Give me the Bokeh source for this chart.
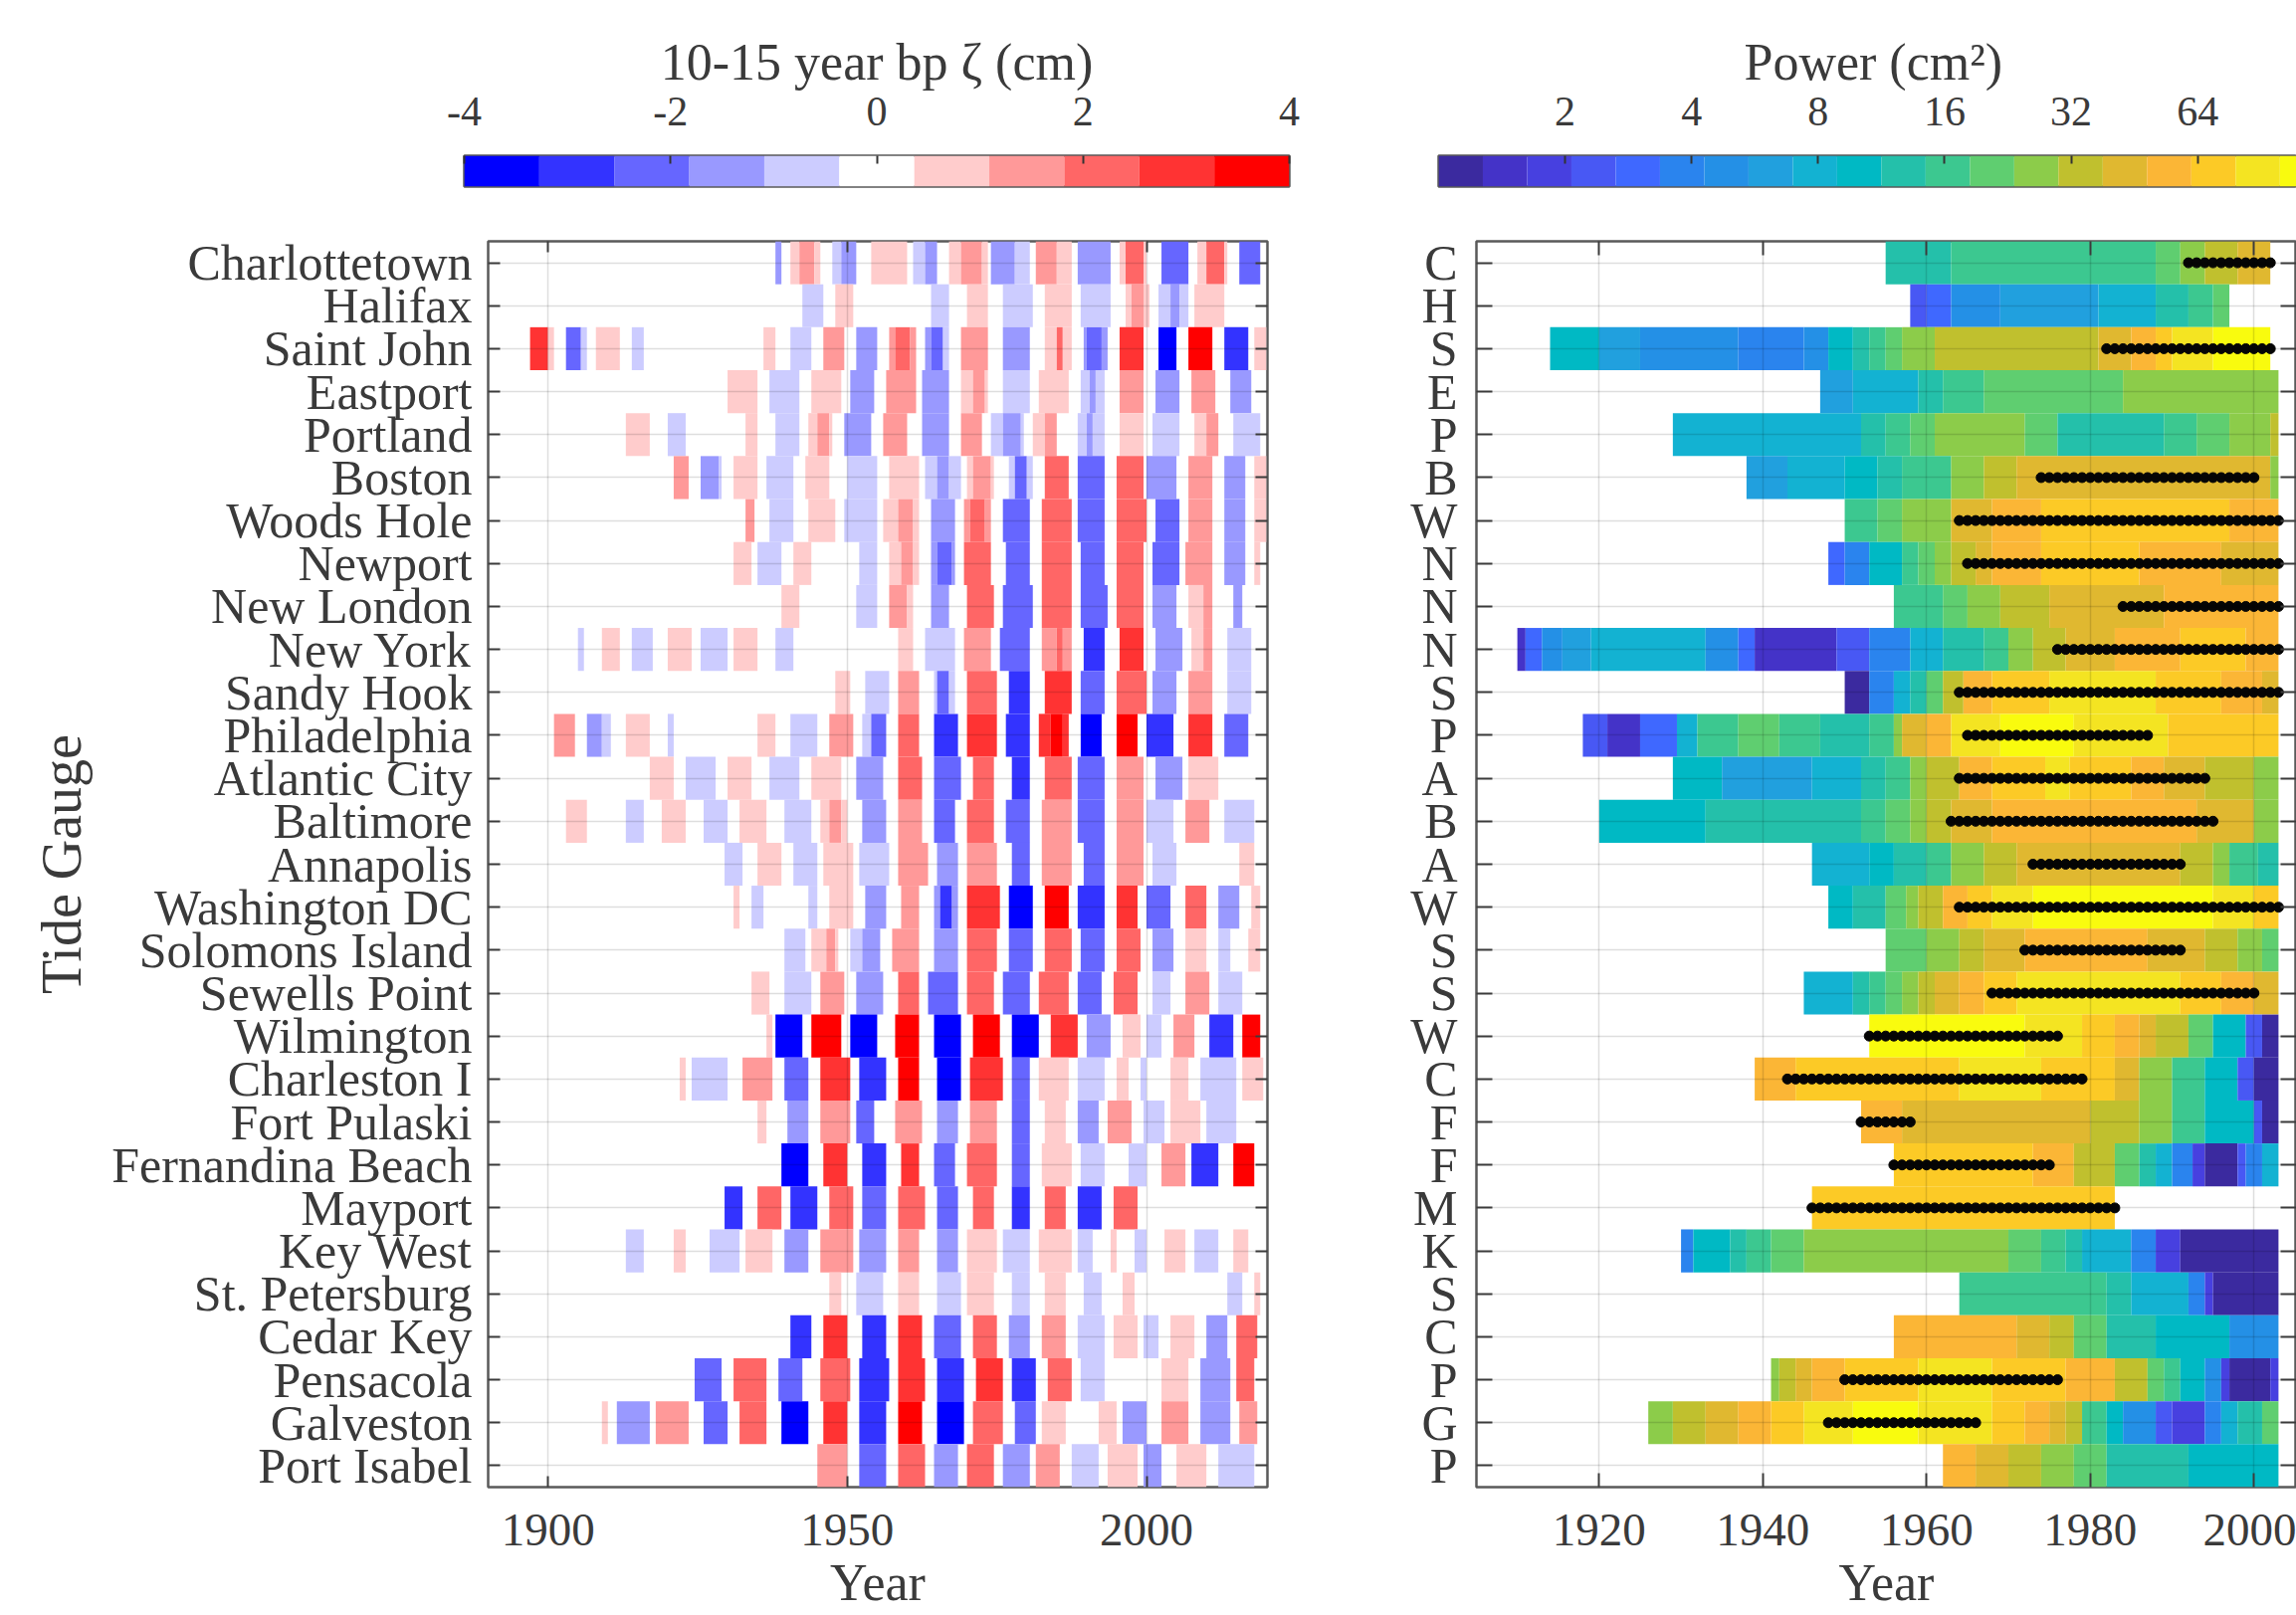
from bokeh.plotting import figure
from bokeh.layouts import column, row
from bokeh.models import (ColumnDataSource, LinearColorMapper, LogColorMapper, Range1d,
                          FixedTicker, LinearAxis)
from bokeh.embed import file_html
from bokeh.resources import INLINE

stations = ["Charlottetown", "Halifax", "Saint John", "Eastport", "Portland", "Boston", "Woods Hole",
            "Newport", "New London", "New York", "Sandy Hook", "Philadelphia", "Atlantic City",
            "Baltimore", "Annapolis", "Washington DC", "Solomons Island", "Sewells Point", "Wilmington",
            "Charleston I", "Fort Pulaski", "Fernandina Beach", "Mayport", "Key West", "St. Petersburg",
            "Cedar Key", "Pensacola", "Galveston", "Port Isabel"]
initials = ["C", "H", "S", "E", "P", "B", "W", "N", "N", "N", "S", "P", "A", "B", "A", "W", "S", "S", "W",
            "C", "F", "F", "M", "K", "S", "C", "P", "G", "P"]

# left panel: (first year, last year, colour-bar bin), bin -5..5, one bin = 8/11 cm
bp_charlottetown = [(1938,1939,-2),(1940.5,1942,1),(1942,1944.5,2),(1944.5,1945.5,1),(1947.5,1949,-1),(1949,1951.5,-2),(1954,1960,1),(1961,1963,-1),(1963,1965,-2),(1967,1969,1),(1969,1972.5,2),(1972.5,1973.5,1),(1974,1978,-2),(1978,1980.5,-1),(1981.5,1985,2),(1985,1987.5,1),(1988.5,1994,-2),(1995.5,1996.5,1),(1996.5,1999.5,3),(1999.5,2000,1),(2002.5,2007,-3),(2008.5,2010,1),(2010,2013,3),(2013,2013.5,1),(2015.5,2019,-3)]
bp_halifax = [(1942.5,1946,-1),(1948,1951,1),(1964,1967,-1),(1970,1973.5,1),(1976,1981,-1),(1983,1987.5,1),(1989,1994,-1),(1996.5,1997.5,1),(1997.5,1999.5,2),(1999.5,2000.5,1),(2002,2004,-1),(2004,2005.5,-2),(2005.5,2007,-1),(2008,2013,1)]
bp_saint_john = [(1897,1900,4),(1900,1901,1),(1903,1905.5,-3),(1905.5,1906.5,-1),(1908,1912,1),(1914,1916,-1),(1936,1938,1),(1940.5,1944,-1),(1946,1949.5,2),(1951.5,1955,-2),(1957,1958,2),(1958,1960.5,3),(1960.5,1961.5,2),(1963,1964,-2),(1964,1966,-3),(1966,1967,-1),(1969,1973.5,2),(1976,1980.5,-2),(1983,1985,1),(1985,1986,3),(1986,1987.5,1),(1989.5,1990,-2),(1990,1992.5,-3),(1992.5,1993.5,-2),(1995.5,1999.5,4),(2002,2005,-5),(2007,2011,5),(2013,2017,-4),(2018,2020,1)]
bp_eastport = [(1930,1935,1),(1937,1942,-1),(1944,1949,1),(1950.5,1954.5,-2),(1956.5,1961.5,2),(1962.5,1967,-2),(1969,1971,1),(1971,1973,2),(1973,1973.5,1),(1976,1980.5,-1),(1982,1987,1),(1989,1990.5,-1),(1990.5,1991.5,-2),(1991.5,1993,-1),(1995.5,1999.5,2),(2001.5,2005.5,-2),(2007.5,2011.5,2),(2014,2017.5,-2)]
bp_portland = [(1913,1917,1),(1920,1923,-1),(1933,1935,1),(1938,1942,-1),(1943.5,1945,1),(1945,1947,2),(1947,1947.5,1),(1949.5,1954,-2),(1956,1960,2),(1962.5,1967,-2),(1969,1972.5,2),(1974,1976,-1),(1976,1979,-2),(1979,1979.5,-1),(1981,1983,1),(1983,1985,2),(1988.5,1990,-1),(1990,1991,-2),(1991,1993,-1),(1995.5,1999.5,1),(2001,2005.5,-1),(2008,2010,1),(2010,2012,2),(2014.5,2019,-1)]
bp_boston = [(1921,1923.5,2),(1925.5,1928.5,-2),(1928.5,1929,-1),(1931,1935,1),(1936.5,1941,-1),(1943,1947,1),(1950,1955,-1),(1957,1962,1),(1963,1965,-1),(1965,1967,-2),(1967,1969,-1),(1970,1971,1),(1971,1974,2),(1974,1974.5,1),(1977,1978,-1),(1978,1980,-3),(1980,1981,-1),(1983,1987,3),(1988.5,1993,-3),(1995,1999.5,3),(2000,2005,-2),(2007,2011,2),(2013,2016.5,-2),(2018,2020,1)]
bp_woods_hole = [(1933,1934.5,2),(1937,1941,-1),(1943.5,1948,1),(1949.5,1955,-1),(1956,1958.5,1),(1958.5,1961,2),(1961,1962,1),(1964,1968,-2),(1969.5,1970.5,2),(1970.5,1973,3),(1973,1974,2),(1976,1980.5,-3),(1982.5,1987.5,3),(1988.5,1993,-3),(1995,2000,3),(2001.5,2005.5,-3),(2007,2011,2),(2013,2016.5,-2),(2018,2020,1)]
bp_newport = [(1931,1934,1),(1935,1939,-1),(1941,1944,1),(1952,1955,-1),(1957,1959,1),(1959,1961,2),(1961,1962,1),(1964,1965,-2),(1965,1967.5,-3),(1967.5,1968,-2),(1969.5,1974,3),(1976.5,1980.5,-3),(1982.5,1987.5,3),(1989,1993,-3),(1995,1999.5,3),(2001,2005.5,-3),(2006.5,2011,2),(2013,2016.5,-2),(2018,2019,1)]
bp_new_london = [(1939,1942,1),(1951.5,1955,-1),(1957,1960,2),(1960,1961,1),(1964,1967,-2),(1970,1974.5,3),(1976,1981,-3),(1982.5,1987.5,3),(1989,1993.5,-3),(1995,1999.5,3),(2001,2005,-2),(2007,2009.5,1),(2009.5,2011,2),(2014.5,2016,-2)]
bp_new_york = [(1905,1906,-1),(1909,1912,1),(1914,1917.5,-1),(1920,1924,1),(1925.5,1930,-1),(1931,1935,1),(1938,1941,-1),(1958.5,1961,1),(1963,1968,-1),(1969.5,1974,2),(1975.5,1980.5,-3),(1982.5,1985,2),(1985,1986,3),(1986,1987.5,2),(1989.5,1993,-4),(1995.5,1999.5,4),(2001.5,2006,-2),(2007.5,2009.5,1),(2009.5,2011,2),(2013.5,2017.5,-1)]
bp_sandy_hook = [(1948,1950.5,1),(1953,1957,-1),(1958.5,1962,2),(1964.5,1965,-1),(1965,1967,-3),(1967,1968,-1),(1970,1975,3),(1977,1980.5,-4),(1983,1987.5,4),(1989,1993,-3),(1995,2000,3),(2001,2005,-2),(2007,2011,2),(2013.5,2017.5,-1)]
bp_philadelphia = [(1901,1904.5,2),(1906.5,1909,-2),(1909,1910.5,-1),(1913,1917,1),(1920,1921,-1),(1935,1938,1),(1940.5,1945,-1),(1947,1951,2),(1952.5,1954,-1),(1954,1956.5,-3),(1958.5,1962,3),(1964.5,1968.5,-4),(1970,1975,4),(1976.5,1980.5,-4),(1982,1984,4),(1984,1986,5),(1986,1987,4),(1989,1992.5,-5),(1995,1998.5,5),(2000,2004.5,-4),(2007,2011,4),(2013,2017,-3)]
bp_atlantic_city = [(1917,1921,1),(1923,1928,-1),(1930,1934,1),(1937,1942,-1),(1944,1949,1),(1951.5,1956,-2),(1958.5,1962.5,3),(1964.5,1969,-3),(1971,1974.5,3),(1977.5,1980.5,-4),(1983,1987.5,3),(1988.5,1993,-3),(1995,1999.5,2),(2001.5,2006,-2),(2007,2012,1)]
bp_baltimore = [(1903,1906.5,1),(1913,1916,-1),(1919,1923,1),(1926,1930,-1),(1932,1936.5,1),(1939.5,1944,-1),(1945.5,1947,1),(1947,1949,2),(1949,1950,1),(1952.5,1956.5,-2),(1958.5,1962.5,2),(1964.5,1968,-3),(1970,1974.5,3),(1976.5,1980.5,-3),(1982.5,1987.5,2),(1988.5,1993,-3),(1995,1999.5,2),(2000,2004.5,-1),(2006.5,2010.5,2),(2013,2018,-1)]
bp_annapolis = [(1929.5,1932.5,-1),(1935,1939,1),(1941,1945,-1),(1946,1951,1),(1952,1957,-1),(1958.5,1963.5,2),(1965,1968.5,-2),(1970,1975,2),(1977.5,1980.5,-3),(1982.5,1987.5,2),(1989.5,1993,-3),(1995,1999.5,2),(2001,2005,-1),(2015.5,2018,1)]
bp_washington = [(1931,1932,1),(1934,1936,-1),(1943.5,1945,-1),(1947,1951,1),(1953,1956.5,-2),(1959,1962,2),(1964.5,1965.5,-2),(1965.5,1967.5,-4),(1967.5,1968.5,-2),(1970,1975.5,4),(1977,1981,-5),(1983,1987,5),(1988.5,1993,-4),(1995,1998.5,4),(2000,2004,-3),(2006.5,2010,3),(2012,2015.5,-2),(2017.5,2019,1)]
bp_solomons = [(1939.5,1943,-1),(1944,1946.5,1),(1946.5,1948,2),(1948,1948.5,1),(1950.5,1952.5,-1),(1952.5,1955.5,-2),(1957.5,1962,2),(1964.5,1968.5,-2),(1970,1975,3),(1977,1981,-3),(1983,1987.5,3),(1989,1993,-3),(1995,1999,3),(2001,2004.5,-2),(2006.5,2010,1),(2012,2014,-1),(2017,2019,1)]
bp_sewells = [(1934,1937,1),(1939.5,1944,-1),(1945.5,1949.5,2),(1951.5,1956,-2),(1958.5,1962,3),(1963.5,1968.5,-3),(1970,1974.5,3),(1976,1980.5,-3),(1982,1987,3),(1988.5,1992.5,-3),(1994.5,1998.5,3),(2001,2004,-1),(2006.5,2010.5,2),(2012,2016,-1)]
bp_wilmington = [(1936.5,1937.5,1),(1938,1942.5,-5),(1944,1949,5),(1950.5,1955,-5),(1958,1962,5),(1964.5,1969,-5),(1971,1975.5,5),(1977.5,1982,-5),(1984,1988.5,4),(1990,1994,-2),(1996,1999,1),(2000,2002.5,-1),(2004.5,2008,2),(2010.5,2014.5,-4),(2016,2019,5)]
bp_charleston = [(1922,1923,1),(1924,1930,-1),(1932.5,1937.5,2),(1939.5,1943.5,-3),(1945.5,1950.5,4),(1952,1956.5,-4),(1958.5,1962,5),(1965,1969,-5),(1970.5,1976,4),(1977.5,1980.5,-3),(1982,1987,1),(1988.5,1993,-1),(1995,1997,1),(1999,2000,-1),(2004,2007,1),(2009,2015,-1),(2016,2019.5,1)]
bp_pulaski = [(1935,1936.5,1),(1940,1943.5,-2),(1945.5,1950.5,2),(1951.5,1954.5,-3),(1958,1962.5,2),(1965,1968.5,-2),(1970.5,1975,2),(1977.5,1980.5,-3),(1983,1986.5,1),(1988.5,1992,-2),(1993.5,1997.5,2),(1999.5,2003,-1),(2004,2009,1),(2010,2015,-1)]
bp_fernandina = [(1939,1943.5,-5),(1946,1950,4),(1952.5,1956.5,-4),(1959,1962,4),(1964.5,1968,-3),(1970,1975,3),(1977.5,1980.5,-3),(1982.5,1987.5,1),(1989,1993,-1),(1997,2000,-1),(2002.5,2006.5,2),(2007.5,2012,-4),(2014.5,2018,5)]
bp_mayport = [(1929.5,1932.5,-4),(1935,1939,3),(1940.5,1945,-4),(1947,1951,3),(1952.5,1956.5,-3),(1958.5,1963,3),(1965,1968.5,-3),(1971,1974.5,3),(1977.5,1980.5,-4),(1983,1986.5,3),(1988.5,1992.5,-4),(1994.5,1998.5,3)]
bp_key_west = [(1913,1916,-1),(1921,1923,1),(1927,1932,-1),(1933,1937.5,1),(1939.5,1943.5,-2),(1945.5,1951,2),(1952,1956.5,-2),(1958.5,1962,2),(1965,1968.5,-2),(1970,1975,1),(1976,1980.5,-1),(1982,1987.5,1),(1988.5,1991,-1),(1994,1995,1),(1998,2000,-1),(2003,2006.5,1),(2008,2012,-1),(2014.5,2017,1)]
bp_st_petersburg = [(1947,1949,1),(1951.5,1956,-1),(1958.5,1962,1),(1965,1969,-1),(1970,1974.5,1),(1977.5,1980.5,-1),(1983,1986.5,1),(1989.5,1992.5,-1),(1996,1998,1),(2013.5,2016,-1),(2018,2019,1)]
bp_cedar_key = [(1940.5,1944,-4),(1946,1950,4),(1952.5,1956.5,-4),(1958.5,1962.5,4),(1964.5,1969,-3),(1971,1975,3),(1977,1980.5,-2),(1982.5,1986.5,2),(1988.5,1993,-1),(1994.5,1998.5,1),(1999.5,2002,-1),(2004,2008,1),(2010,2013.5,-2),(2015,2018.5,3)]
bp_pensacola = [(1924.5,1929,-3),(1931,1936.5,3),(1938.5,1942.5,-3),(1945.5,1950.5,3),(1952,1957,-4),(1958.5,1963,4),(1965,1969.5,-4),(1971.5,1976,4),(1977.5,1981.5,-4),(1983.5,1987.5,3),(1989,1993,-1),(2002.5,2007,1),(2009,2014,-2),(2015,2018,3)]
bp_galveston = [(1909,1910,1),(1911.5,1917,-2),(1918,1923.5,2),(1926,1930,-3),(1932,1936.5,3),(1939,1943.5,-5),(1946,1950,4),(1952,1956.5,-4),(1958.5,1962.5,5),(1965,1969.5,-5),(1971,1976,3),(1978,1981.5,-3),(1982.5,1986.5,1),(1992,1995,1),(1996,2000,-2),(2002.5,2007,2),(2009,2014,-2),(2015.5,2018.5,2)]
bp_port_isabel = [(1945,1950,2),(1952,1956.5,-3),(1958.5,1963,3),(1964.5,1968.5,-2),(1970,1974.5,3),(1976,1980.5,-2),(1981.5,1985.5,2),(1987.5,1992,-1),(1993.5,1998.5,1),(1999.5,2002.5,-2),(2005,2010,1),(2012,2018,-1)]

# right panel: (first year, last year, colour-bar bin), bin 0..19, 20 bins over 1..128 cm2 on a log axis
pw_charlottetown = [(1955,1963,10),(1963,1988,11),(1988,1991,12),(1991,1994,13),(1994,1998,14),(1998,2002,15)]
pw_halifax = [(1958,1960,3),(1960,1963,4),(1963,1969,6),(1969,1981,7),(1981,1988,8),(1988,1992,10),(1992,1995,11),(1995,1997,12)]
pw_saint_john = [(1914,1920,9),(1920,1925,7),(1925,1937,6),(1937,1945,5),(1945,1948,6),(1948,1951,9),(1951,1953,10),(1953,1955,11),(1955,1957,12),(1957,1961,13),(1961,1981,14),(1981,1985,15),(1985,1988,16),(1988,1990,17),(1990,1995,18),(1995,2002,19)]
pw_eastport = [(1947,1951,7),(1951,1959,8),(1959,1962,10),(1962,1967,11),(1967,1984,12),(1984,2003,13)]
pw_portland = [(1929,1952,8),(1952,1955,10),(1955,1958,11),(1958,1961,12),(1961,1972,13),(1972,1976,12),(1976,1989,10),(1989,1993,11),(1993,1997,12),(1997,2002,13),(2002,2003,14)]
pw_boston = [(1938,1943,7),(1943,1950,8),(1950,1954,9),(1954,1957,10),(1957,1963,11),(1963,1967,13),(1967,1971,14),(1971,2002,15),(2002,2003,13)]
pw_woods_hole = [(1950,1954,11),(1954,1957,12),(1957,1963,13),(1963,1968,15),(1968,1974,16),(1974,1997,17),(1997,2003,16)]
pw_newport = [(1948,1950,4),(1950,1953,5),(1953,1957,9),(1957,1959,11),(1959,1961,12),(1961,1963,13),(1963,1966,14),(1966,1968,15),(1968,1974,16),(1974,1986,17),(1986,1996,16),(1996,2003,15)]
pw_new_london = [(1956,1962,11),(1962,1965,12),(1965,1969,13),(1969,1975,14),(1975,1989,15),(1989,2003,16)]
pw_new_york = [(1910,1911,1),(1911,1913,4),(1913,1915.5,6),(1915.5,1919,7),(1919,1933,8),(1933,1937,6),(1937,1939,4),(1939,1949,1),(1949,1953,3),(1953,1958,5),(1958,1962,8),(1962,1967,10),(1967,1970,11),(1970,1973,13),(1973,1977,14),(1977,1983,15),(1983,1991,16),(1991,1999,17),(1999,2003,16)]
pw_sandy_hook = [(1950,1953,0),(1953,1956,5),(1956,1958,8),(1958,1960,10),(1960,1962,12),(1962,1964.5,14),(1964.5,1968,16),(1968,1975,17),(1975,1988,18),(1988,1996,17),(1996,2001,16),(2001,2003,15)]
pw_philadelphia = [(1918,1921,3),(1921,1925,1),(1925,1929.5,4),(1929.5,1932,8),(1932,1937,11),(1937,1942,12),(1942,1947,11),(1947,1953,10),(1953,1956,11),(1956,1957,13),(1957,1960,15),(1960,1963,16),(1963,1969,18),(1969,1978,19),(1978,1989.5,18),(1989.5,2003,17)]
pw_atlantic_city = [(1929,1935,9),(1935,1946,7),(1946,1952,8),(1952,1955,10),(1955,1958,11),(1958,1960,13),(1960,1964,14),(1964,1968,16),(1968,1974.5,17),(1974.5,1977.5,18),(1977.5,1985,17),(1985,1989,16),(1989,1994,15),(1994,2000,14),(2000,2003,13)]
pw_baltimore = [(1920,1933,9),(1933,1952,10),(1952,1955,11),(1955,1958,12),(1958,1960,13),(1960,1963,14),(1963,1968,15),(1968,1993,16),(1993,2000,15),(2000,2003,13)]
pw_annapolis = [(1946,1953,8),(1953,1956,9),(1956,1960,10),(1960,1963,11),(1963,1967,13),(1967,1971,14),(1971,1991,15),(1991,1995,14),(1995,1997,13),(1997,2000.5,11),(2000.5,2003,10)]
pw_washington = [(1948,1951,9),(1951,1955,10),(1955,1957.5,12),(1957.5,1959,13),(1959,1962,14),(1962,1965,16),(1965,1968,17),(1968,1973,18),(1973,1995,19),(1995,2000,18),(2000,2003,17)]
pw_solomons = [(1955,1960,12),(1960,1964,13),(1964,1967,14),(1967,1972,15),(1972,1987,16),(1987,1994,15),(1994,1998,14),(1998,2001,13),(2001,2003,12)]
pw_sewells = [(1945,1951,8),(1951,1953,10),(1953,1955,11),(1955,1957,12),(1957,1959,13),(1959,1961,14),(1961,1964,15),(1964,1967,16),(1967,1971,17),(1971,1991,18),(1991,1996,17),(1996,2000,16),(2000,2003,15)]
pw_wilmington = [(1953,1972,19),(1972,1979,18),(1979,1983,17),(1983,1986,16),(1986,1988,15),(1988,1992,14),(1992,1995,12),(1995,1999,9),(1999,2001,3),(2001,2003,0)]
pw_charleston = [(1939,1944,16),(1944,1964,17),(1964,1974,18),(1974,1983,17),(1983,1986,15),(1986,1990,13),(1990,1994,11),(1994,1998,9),(1998,2000,3),(2000,2003,0)]
pw_pulaski = [(1952,1957,16),(1957,1980,15),(1980,1986,14),(1986,1990,13),(1990,1994,11),(1994,2000,9),(2000,2001,3),(2001,2003,0)]
pw_fernandina = [(1956,1973,17),(1973,1978,16),(1978,1983,14),(1983,1986,12),(1986,1988,10),(1988,1990,8),(1990,1992.5,5),(1992.5,1994,2),(1994,1998,0),(1998,1999,3),(1999,2001,5),(2001,2003,8)]
pw_mayport = [(1946,1983,17)]
pw_key_west = [(1930,1931.5,5),(1931.5,1936,9),(1936,1938,10),(1938,1941,11),(1941,1945,12),(1945,1970,13),(1970,1974,12),(1974,1977,11),(1977,1979,10),(1979,1985,8),(1985,1988,5),(1988,1991,2),(1991,2003,0)]
pw_st_petersburg = [(1964,1982,11),(1982,1985,10),(1985,1992,8),(1992,1994,5),(1994,1995,2),(1995,2003,0)]
pw_cedar_key = [(1956,1971,16),(1971,1975,15),(1975,1978,14),(1978,1982,12),(1982,1988,10),(1988,1997,9),(1997,2003,6)]
pw_pensacola = [(1941,1942,13),(1942,1944,14),(1944,1946,15),(1946,1950,16),(1950,1959,17),(1959,1968,18),(1968,1977,17),(1977,1983,16),(1983,1987,14),(1987,1989,12),(1989,1991,11),(1991,1994,9),(1994,1996,6),(1996,1997,2),(1997,2002,0),(2002,2003,2)]
pw_galveston = [(1926,1929,13),(1929,1933,14),(1933,1937,15),(1937,1941,16),(1941,1945,17),(1945,1951,18),(1951,1959,19),(1959,1968,18),(1968,1972,17),(1972,1975,16),(1975,1977,15),(1977,1979,14),(1979,1982,11),(1982,1984,9),(1984,1988,6),(1988,1990,3),(1990,1994,2),(1994,1996,5),(1996,1998,8),(1998,2001,10),(2001,2003,12)]
pw_port_isabel = [(1962,1966,16),(1966,1970,15),(1970,1974,14),(1974,1978,13),(1978,1982,12),(1982,1992,10),(1992,2003,9)]

# significant years per station: (first, last), None when there are none
sig_years = [(1992,2002),None,(1982,2002),None,None,(1974,2000),(1964,2003),(1965,2003),(1984,2003),(1976,2003),
             (1964,2003),(1965,1987),(1964,1994),(1963,1995),(1973,1991),(1964,2003),(1972,1991),(1968,2000),
             (1953,1976),(1943,1979),(1952,1958),(1956,1975),(1946,1983),None,None,None,(1950,1976),(1948,1966),None]

bp_tables = [bp_charlottetown,bp_halifax,bp_saint_john,bp_eastport,bp_portland,bp_boston,bp_woods_hole,bp_newport,bp_new_london,bp_new_york,bp_sandy_hook,bp_philadelphia,bp_atlantic_city,bp_baltimore,bp_annapolis,bp_washington,bp_solomons,bp_sewells,bp_wilmington,bp_charleston,bp_pulaski,bp_fernandina,bp_mayport,bp_key_west,bp_st_petersburg,bp_cedar_key,bp_pensacola,bp_galveston,bp_port_isabel]
pw_tables = [pw_charlottetown,pw_halifax,pw_saint_john,pw_eastport,pw_portland,pw_boston,pw_woods_hole,pw_newport,pw_new_london,pw_new_york,pw_sandy_hook,pw_philadelphia,pw_atlantic_city,pw_baltimore,pw_annapolis,pw_washington,pw_solomons,pw_sewells,pw_wilmington,pw_charleston,pw_pulaski,pw_fernandina,pw_mayport,pw_key_west,pw_st_petersburg,pw_cedar_key,pw_pensacola,pw_galveston,pw_port_isabel]

bwr = ["#0000ff","#3333ff","#6666ff","#9999ff","#ccccff","#ffffff","#ffcccc","#ff9999","#ff6666","#ff3333","#ff0000"]
parula = ["#3b2a9f","#4433c8","#4740e0","#4858f4","#3f68ff","#2a84ee","#2490e6","#21a0de","#13b2d2","#00b9c4",
          "#24c0aa","#3cc890","#5fce70","#8ccc4a","#c0c02e","#e0b830","#fbb636","#fcca26","#f4e422","#f9fb0e"]

bp_ticks = [-4, -2, 0, 2, 4]
bp_tick_labels = ["-4", "-2", "0", "2", "4"]
pw_ticks = [2, 4, 8, 16, 32, 64]
pw_tick_labels = ["2", "4", "8", "16", "32", "64"]
left_years = [1900, 1950, 2000]
right_years = [1920, 1940, 1960, 1980, 2000]

SERIF = "Liberation Serif"
TXT = "#3a3a3a"
FRAME = "#5a5a5a"
N = len(stations)
rows_idx = list(range(1, N + 1))


def bp_value(b):
    return b * 8 / 11


def pw_value(b):
    return 2 ** ((b + 0.5) * 7 / 20)


bp_map = LinearColorMapper(palette=bwr, low=-4, high=4)
pw_map = LogColorMapper(palette=parula, low=1, high=128)


def cells(tables, conv):
    d = dict(l=[], r=[], t=[], b=[], v=[])
    for i, tab in enumerate(tables, 1):
        for a, z, k in tab:
            d["l"].append(a); d["r"].append(z)
            d["t"].append(i - 0.5); d["b"].append(i + 0.5)
            d["v"].append(conv(k))
    return ColumnDataSource(d)


def panel(tables, conv, mapper, labels, years, xr, yr, width, height, borders, tick_x, tick_y, ylabel, y_standoff):
    top, right, bottom, left = borders
    p = figure(width=width, height=height, x_range=xr, y_range=yr, output_backend="svg",
               toolbar_location=None, min_border_top=top, min_border_right=right,
               min_border_bottom=bottom, min_border_left=left, tools="")
    p.quad(left="l", right="r", top="t", bottom="b", source=cells(tables, conv),
           fill_color={"field": "v", "transform": mapper}, line_color=None)
    p.outline_line_color = FRAME
    p.outline_line_width = 2.5
    p.background_fill_color = "#ffffff"
    p.border_fill_color = "#ffffff"
    for g in (p.xgrid[0], p.ygrid[0]):
        g.grid_line_color = "#000000"
        g.grid_line_alpha = 0.13
        g.grid_line_width = 1.5
        g.level = "annotation"
    p.xgrid[0].ticker = FixedTicker(ticks=years)
    p.ygrid[0].ticker = FixedTicker(ticks=rows_idx)

    xa, ya = p.xaxis[0], p.yaxis[0]
    xa.ticker = FixedTicker(ticks=years)
    ya.ticker = FixedTicker(ticks=rows_idx)
    ya.major_label_overrides = dict(zip(rows_idx, labels))
    xa.major_label_overrides = {y: str(y) for y in years}
    xa.axis_label = "Year"
    if ylabel:
        ya.axis_label = ylabel
    for a, tl, std, fs in ((xa, tick_x, 27, "47px"), (ya, tick_y, y_standoff, "50px")):
        a.axis_line_color = None
        a.major_tick_line_color = "#444444"
        a.major_tick_line_width = 2
        a.major_tick_in = tl
        a.major_tick_out = 0
        a.minor_tick_line_color = None
        a.major_label_text_font = SERIF
        a.major_label_text_font_size = fs
        a.major_label_text_color = TXT
        a.major_label_standoff = std
        a.axis_label_text_font = SERIF
        a.axis_label_text_font_style = "normal"
        a.axis_label_text_color = TXT
    xa.axis_label_text_font_size = "52px"
    ya.axis_label_text_font_size = "56px"
    xa.axis_label_standoff = 6
    ya.axis_label_standoff = 16
    # mirrored ticks on the other two sides, with empty labels
    for loc, ticks, tl in (("right", rows_idx, tick_y), ("above", years, tick_x)):
        m = LinearAxis(ticker=FixedTicker(ticks=ticks), major_label_overrides={t: "" for t in ticks},
                       major_label_text_font_size="1px",
                       major_label_standoff=0, major_tick_in=tl, major_tick_out=0,
                       axis_line_color=None, minor_tick_line_color=None,
                       major_tick_line_color="#444444", major_tick_line_width=2)
        p.add_layout(m, loc)
    return p


def bar(edges, palette, ticks, tick_labels, xr, axis_type, width, height, borders, title, title_offset, title_align):
    top, right, bottom, left = borders
    p = figure(width=width, height=height, x_range=xr, y_range=Range1d(0, 1), x_axis_type=axis_type,
               x_axis_location="above", output_backend="svg", toolbar_location=None, tools="",
               min_border_top=top, min_border_right=right, min_border_bottom=bottom, min_border_left=left,
               title=title)
    p.quad(left=edges[:-1], right=edges[1:], top=1, bottom=0, fill_color=palette, line_color=None)
    p.yaxis.visible = False
    p.grid.visible = False
    p.outline_line_color = FRAME
    p.outline_line_width = 2.5
    a = p.xaxis[0]
    a.ticker = FixedTicker(ticks=ticks)
    a.major_label_overrides = dict(zip(ticks, tick_labels))
    a.axis_line_color = None
    a.minor_tick_line_color = None
    a.major_tick_in = 8
    a.major_tick_out = 0
    a.major_tick_line_color = "#333333"
    a.major_tick_line_width = 2
    a.major_label_standoff = 31
    a.major_label_text_font = SERIF
    a.major_label_text_font_size = "42px"
    a.major_label_text_color = TXT
    p.title.align = title_align
    p.title.offset = title_offset
    p.title.vertical_align = "top"
    p.title.standoff = 3
    p.title.text_font = SERIF
    p.title.text_font_size = "52px"
    p.title.text_font_style = "normal"
    p.title.text_color = TXT
    return p


bp_edges = [-4 + i * 8 / 11 for i in range(12)]
pw_edges = [2 ** (i * 7 / 20) for i in range(21)]

bar_left = bar(bp_edges, bwr, bp_ticks, bp_tick_labels, Range1d(-4, 4), "linear", 1400, 204,
               (150, 105, 17, 466), "10-15 year bp \u03b6 (cm)", 0, "center")
bar_right = bar(pw_edges, parula, pw_ticks, pw_tick_labels, Range1d(1, 110), "log", 907, 204,
                (156, 0, 13, 45), "Power (cm\u00b2)", 307, "left")

left_panel = panel(bp_tables, bp_value, bp_map, stations, left_years, Range1d(1890, 2020.2), Range1d(N + 0.5, 0.5),
                   1400, 1419, (34, 127, 129, 490), 11, 12, "Tide Gauge", 16)
right_panel = panel(pw_tables, pw_value, pw_map, initials, right_years, Range1d(1905, 2005.2), Range1d(N + 0.5, 0.5),
                    907, 1419, (38, 0, 128, 83), 14, 16, "", 19)
sx, sy = [], []
for i, s in enumerate(sig_years, 1):
    if s:
        for y in range(s[0], s[1] + 1):
            sx.append(y); sy.append(i)
right_panel.scatter(sx, sy, size=10, color="#050505", marker="circle")

page = column(row(bar_left, bar_right, spacing=0), row(left_panel, right_panel, spacing=0), spacing=0)
open("out.html", "w").write(file_html(page, INLINE))
